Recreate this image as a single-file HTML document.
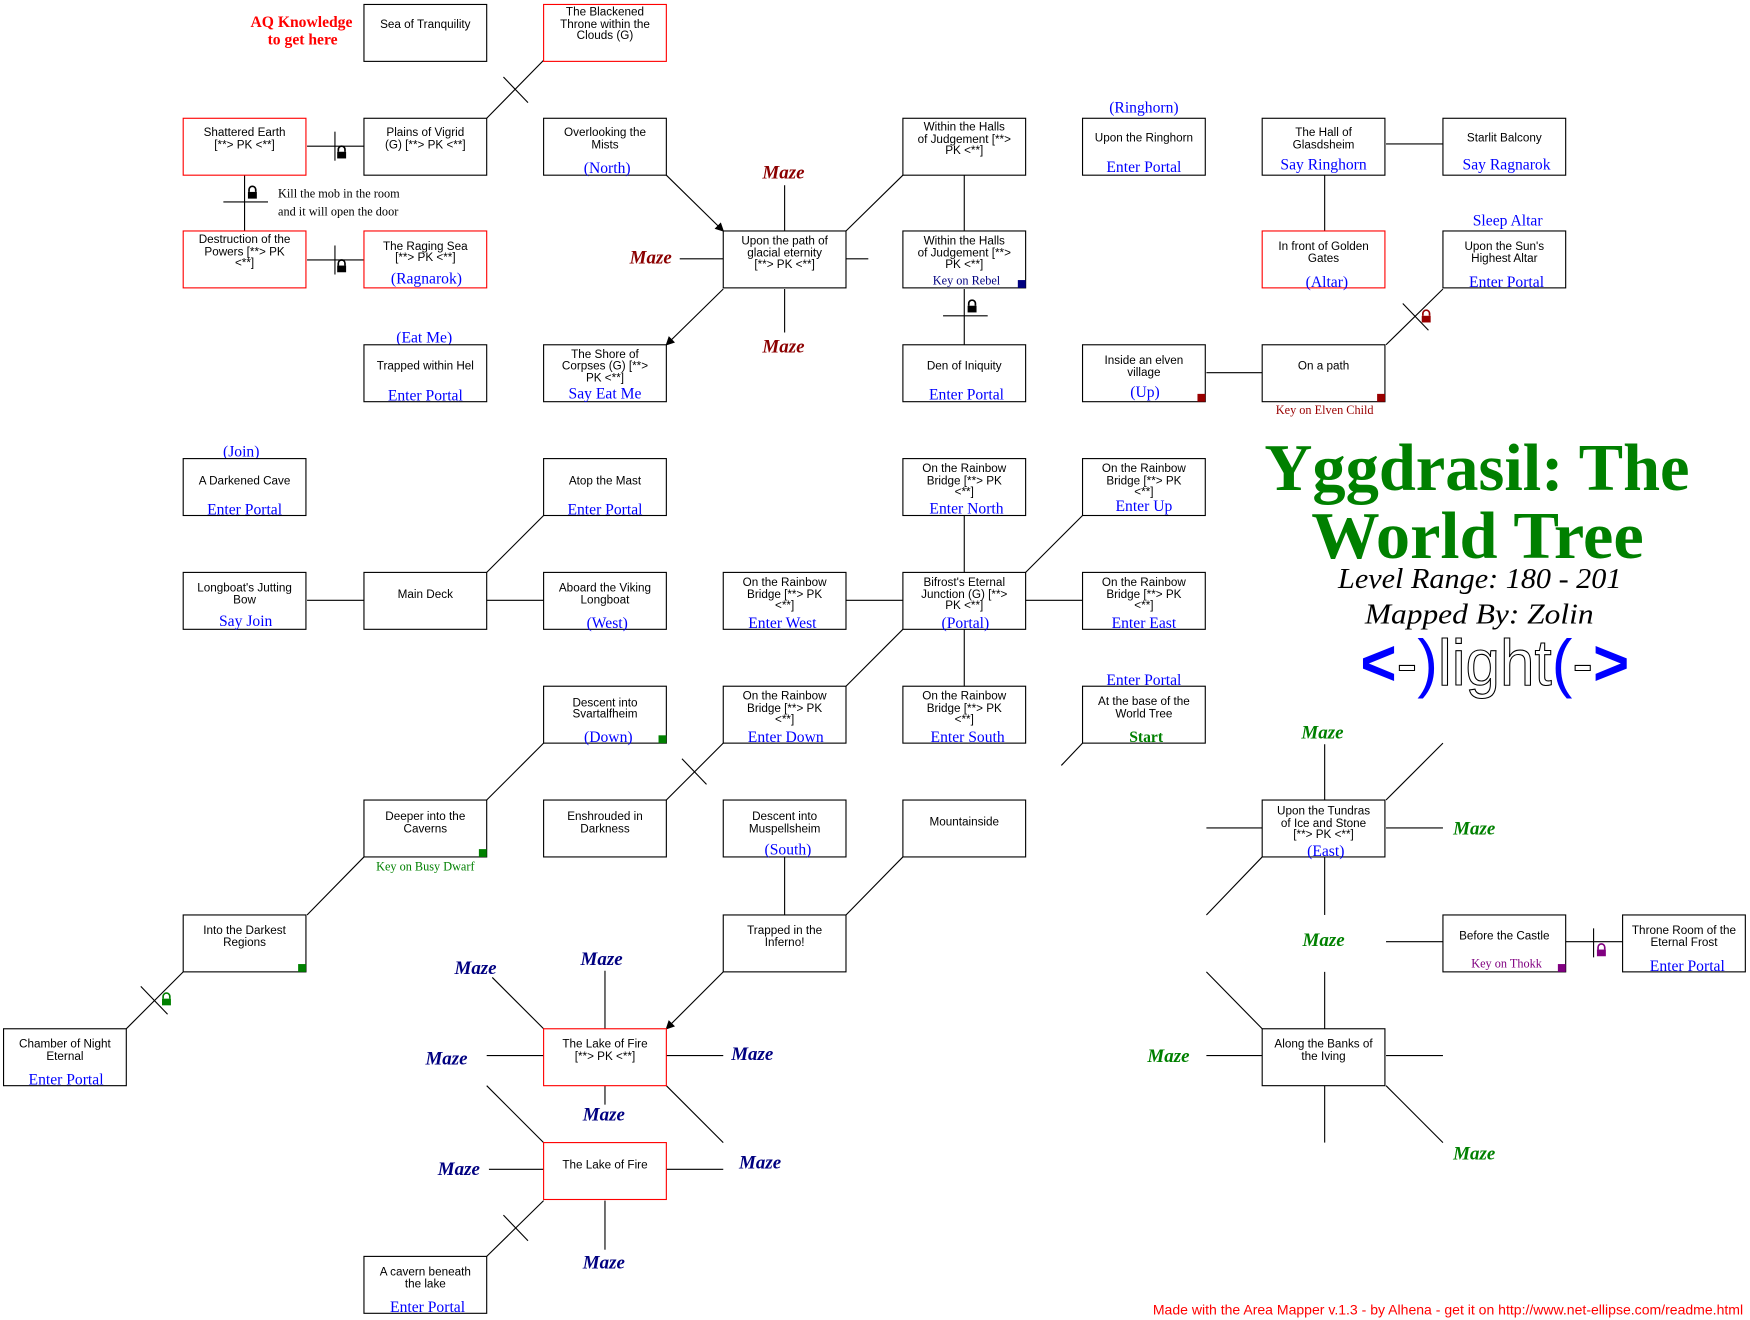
<!DOCTYPE html>
<html><head><meta charset="utf-8"><style>
html,body{margin:0;padding:0;background:#fff;width:1750px;height:1320px;overflow:hidden}
svg{display:block}
.t{font-family:"Liberation Sans",sans-serif;font-size:10.5px;text-anchor:middle;fill:#000}
.l{font-family:"Liberation Serif",serif;font-size:14px;text-anchor:middle;fill:#0000ff}
.s{font-family:"Liberation Serif",serif;font-size:11px;text-anchor:middle}
.m{font-family:"Liberation Serif",serif;font-size:17px;font-weight:bold;font-style:italic;text-anchor:middle}
.r{fill:#fff;stroke:#000;stroke-width:1}
.rr{fill:#fff;stroke:#ff0000;stroke-width:1}
line{stroke:#000;stroke-width:1}
</style></head><body>
<svg width="1750" height="1320" viewBox="0 0 1568 1183" xmlns="http://www.w3.org/2000/svg">
<defs>
<marker id="ar" markerWidth="8" markerHeight="8" refX="7" refY="4" orient="auto" markerUnits="userSpaceOnUse"><path d="M0,0 L8,4 L0,8 z" fill="#000"/></marker>
</defs>

<line x1="436" y1="106" x2="487" y2="54"/>
<line x1="451" y1="69" x2="473" y2="92"/>
<line x1="275" y1="131" x2="326" y2="131"/><line x1="300" y1="118" x2="300" y2="144"/>
<line x1="219" y1="157" x2="219" y2="207"/><line x1="200" y1="181" x2="240" y2="181"/>
<line x1="275" y1="233" x2="326" y2="233"/><line x1="300" y1="220" x2="300" y2="246"/>
<line x1="597" y1="157" x2="648" y2="207" marker-end="url(#ar)"/>
<line x1="648" y1="259" x2="597" y2="309" marker-end="url(#ar)"/>
<line x1="703" y1="207" x2="703" y2="166"/>
<line x1="609" y1="232" x2="648" y2="232"/>
<line x1="758" y1="232" x2="778" y2="232"/>
<line x1="703" y1="259" x2="703" y2="298"/>
<line x1="758" y1="207" x2="809" y2="157"/>
<line x1="864" y1="157" x2="864" y2="207"/>
<line x1="864" y1="259" x2="864" y2="309"/><line x1="845" y1="283" x2="885" y2="283"/>
<line x1="1242" y1="129" x2="1293" y2="129"/>
<line x1="1187" y1="157" x2="1187" y2="207"/>
<line x1="1081" y1="334" x2="1131" y2="334"/>
<line x1="1242" y1="309" x2="1293" y2="259"/><line x1="1257" y1="272" x2="1280" y2="296"/>
<line x1="275" y1="538" x2="326" y2="538"/>
<line x1="436" y1="538" x2="487" y2="538"/>
<line x1="436" y1="513" x2="487" y2="462"/>
<line x1="758" y1="538" x2="809" y2="538"/>
<line x1="919" y1="538" x2="970" y2="538"/>
<line x1="864" y1="513" x2="864" y2="462"/>
<line x1="864" y1="564" x2="864" y2="615"/>
<line x1="919" y1="513" x2="970" y2="462"/>
<line x1="809" y1="564" x2="758" y2="615"/>
<line x1="648" y1="666" x2="597" y2="717"/><line x1="611" y1="680" x2="633" y2="703"/>
<line x1="970" y1="666" x2="951" y2="686"/>
<line x1="487" y1="666" x2="436" y2="717"/>
<line x1="326" y1="768" x2="275" y2="820"/>
<line x1="164" y1="871" x2="113" y2="922"/><line x1="126" y1="884" x2="150" y2="909"/>
<line x1="703" y1="768" x2="703" y2="820"/>
<line x1="809" y1="768" x2="758" y2="820"/>
<line x1="648" y1="871" x2="597" y2="922" marker-end="url(#ar)"/>
<line x1="487" y1="922" x2="441" y2="876"/>
<line x1="542" y1="922" x2="542" y2="870"/>
<line x1="487" y1="946" x2="436" y2="946"/>
<line x1="597" y1="946" x2="648" y2="946"/>
<line x1="542" y1="973" x2="542" y2="990"/>
<line x1="597" y1="973" x2="648" y2="1024"/>
<line x1="436" y1="973" x2="487" y2="1024"/>
<line x1="487" y1="1048" x2="438" y2="1048"/>
<line x1="597" y1="1048" x2="648" y2="1048"/>
<line x1="542" y1="1076" x2="542" y2="1120"/>
<line x1="487" y1="1076" x2="436" y2="1126"/><line x1="451" y1="1089" x2="473" y2="1112"/>
<line x1="1187" y1="717" x2="1187" y2="667"/>
<line x1="1242" y1="717" x2="1293" y2="666"/>
<line x1="1131" y1="742" x2="1081" y2="742"/>
<line x1="1242" y1="742" x2="1293" y2="742"/>
<line x1="1131" y1="768" x2="1081" y2="820"/>
<line x1="1187" y1="768" x2="1187" y2="820"/>
<line x1="1187" y1="922" x2="1187" y2="871"/>
<line x1="1131" y1="922" x2="1081" y2="871"/>
<line x1="1131" y1="946" x2="1081" y2="946"/>
<line x1="1242" y1="946" x2="1293" y2="946"/>
<line x1="1187" y1="973" x2="1187" y2="1024"/>
<line x1="1242" y1="973" x2="1293" y2="1024"/>
<line x1="1293" y1="844" x2="1242" y2="844"/>
<line x1="1403" y1="844" x2="1454" y2="844"/><line x1="1428" y1="832" x2="1428" y2="858"/>

<g fill="#000">
<g transform="translate(306,137)"><path d="M-3,-1 v-2 a3,3 0 0 1 6,0 v2" fill="none" stroke="#000" stroke-width="1.5"/><rect x="-4" y="-1" width="8" height="6"/></g>
<g transform="translate(226,173)"><path d="M-3,-1 v-2 a3,3 0 0 1 6,0 v2" fill="none" stroke="#000" stroke-width="1.5"/><rect x="-4" y="-1" width="8" height="6"/></g>
<g transform="translate(306,239)"><path d="M-3,-1 v-2 a3,3 0 0 1 6,0 v2" fill="none" stroke="#000" stroke-width="1.5"/><rect x="-4" y="-1" width="8" height="6"/></g>
<g transform="translate(871,275)"><path d="M-3,-1 v-2 a3,3 0 0 1 6,0 v2" fill="none" stroke="#000" stroke-width="1.5"/><rect x="-4" y="-1" width="8" height="6"/></g>
</g>
<g transform="translate(1278,284)" fill="#990000"><path d="M-3,-1 v-2 a3,3 0 0 1 6,0 v2" fill="none" stroke="#990000" stroke-width="1.5"/><rect x="-4" y="-1" width="8" height="6"/></g>
<g transform="translate(149,896)" fill="#008000"><path d="M-3,-1 v-2 a3,3 0 0 1 6,0 v2" fill="none" stroke="#008000" stroke-width="1.5"/><rect x="-4" y="-1" width="8" height="6"/></g>
<g transform="translate(1435,852)" fill="#800080"><path d="M-3,-1 v-2 a3,3 0 0 1 6,0 v2" fill="none" stroke="#800080" stroke-width="1.5"/><rect x="-4" y="-1" width="8" height="6"/></g>

<rect class="r" x="326" y="4" width="110" height="51"/><text class="t" x="381" y="25">Sea of Tranquility</text>
<rect class="rr" x="487" y="4" width="110" height="51"/><text class="t" x="542" y="14">The Blackened</text><text class="t" x="542" y="25">Throne within the</text><text class="t" x="542" y="35">Clouds (G)</text>

<rect class="rr" x="164" y="106" width="110" height="51"/><text class="t" x="219" y="122">Shattered Earth</text><text class="t" x="219" y="133">[**&gt; PK &lt;**]</text>
<rect class="r" x="326" y="106" width="110" height="51"/><text class="t" x="381" y="122">Plains of Vigrid</text><text class="t" x="381" y="133">(G) [**&gt; PK &lt;**]</text>
<rect class="r" x="487" y="106" width="110" height="51"/><text class="t" x="542" y="122">Overlooking the</text><text class="t" x="542" y="133">Mists</text><text class="l" x="544" y="155">(North)</text>
<rect class="r" x="809" y="106" width="110" height="51"/><text class="t" x="864" y="117">Within the Halls</text><text class="t" x="864" y="128">of Judgement [**&gt;</text><text class="t" x="864" y="138">PK &lt;**]</text>
<text class="l" x="1025" y="101">(Ringhorn)</text>
<rect class="r" x="970" y="106" width="110" height="51"/><text class="t" x="1025" y="127">Upon the Ringhorn</text><text class="l" x="1025" y="154">Enter Portal</text>
<rect class="r" x="1131" y="106" width="110" height="51"/><text class="t" x="1186" y="122">The Hall of</text><text class="t" x="1186" y="133">Glasdsheim</text><text class="l" x="1186" y="152">Say Ringhorn</text>
<rect class="r" x="1293" y="106" width="110" height="51"/><text class="t" x="1348" y="127">Starlit Balcony</text><text class="l" x="1350" y="152">Say Ragnarok</text>

<rect class="rr" x="164" y="207" width="110" height="51"/><text class="t" x="219" y="218">Destruction of the</text><text class="t" x="219" y="229">Powers [**&gt; PK</text><text class="t" x="219" y="239">&lt;**]</text>
<rect class="rr" x="326" y="207" width="110" height="51"/><text class="t" x="381" y="224">The Raging Sea</text><text class="t" x="381" y="234">[**&gt; PK &lt;**]</text><text class="l" x="382" y="254">(Ragnarok)</text>
<rect class="r" x="648" y="207" width="110" height="51"/><text class="t" x="703" y="219">Upon the path of</text><text class="t" x="703" y="230">glacial eternity</text><text class="t" x="703" y="240">[**&gt; PK &lt;**]</text>
<rect class="r" x="809" y="207" width="110" height="51"/><text class="t" x="864" y="219">Within the Halls</text><text class="t" x="864" y="230">of Judgement [**&gt;</text><text class="t" x="864" y="240">PK &lt;**]</text><text class="s" x="866" y="255" fill="#000080">Key on Rebel</text><rect x="912" y="251" width="7" height="7" fill="#000080"/>
<rect class="rr" x="1131" y="207" width="110" height="51"/><text class="t" x="1186" y="224">In front of Golden</text><text class="t" x="1186" y="235">Gates</text><text class="l" x="1189" y="257">(Altar)</text>
<text class="l" x="1351" y="202">Sleep Altar</text>
<rect class="r" x="1293" y="207" width="110" height="51"/><text class="t" x="1348" y="224">Upon the Sun's</text><text class="t" x="1348" y="235">Highest Altar</text><text class="l" x="1350" y="257">Enter Portal</text>

<text class="l" x="380" y="307">(Eat Me)</text>
<rect class="r" x="326" y="309" width="110" height="51"/><text class="t" x="381" y="331">Trapped within Hel</text><text class="l" x="381" y="359">Enter Portal</text>
<rect class="r" x="487" y="309" width="110" height="51"/><text class="t" x="542" y="321">The Shore of</text><text class="t" x="542" y="331">Corpses (G) [**&gt;</text><text class="t" x="542" y="342">PK &lt;**]</text><text class="l" x="542" y="357">Say Eat Me</text>
<rect class="r" x="809" y="309" width="110" height="51"/><text class="t" x="864" y="331">Den of Iniquity</text><text class="l" x="866" y="358">Enter Portal</text>
<rect class="r" x="970" y="309" width="110" height="51"/><text class="t" x="1025" y="326">Inside an elven</text><text class="t" x="1025" y="337">village</text><text class="l" x="1026" y="356">(Up)</text><rect x="1073" y="353" width="7" height="7" fill="#990000"/>
<rect class="r" x="1131" y="309" width="110" height="51"/><text class="t" x="1186" y="331">On a path</text><rect x="1234" y="353" width="7" height="7" fill="#990000"/>
<text class="s" x="1187" y="371" fill="#990000">Key on Elven Child</text>

<text class="l" x="216" y="409">(Join)</text>
<rect class="r" x="164" y="411" width="110" height="51"/><text class="t" x="219" y="434">A Darkened Cave</text><text class="l" x="219" y="461">Enter Portal</text>
<rect class="r" x="487" y="411" width="110" height="51"/><text class="t" x="542" y="434">Atop the Mast</text><text class="l" x="542" y="461">Enter Portal</text>
<rect class="r" x="809" y="411" width="110" height="51"/><text class="t" x="864" y="423">On the Rainbow</text><text class="t" x="864" y="434">Bridge [**&gt; PK</text><text class="t" x="864" y="444">&lt;**]</text><text class="l" x="866" y="460">Enter North</text>
<rect class="r" x="970" y="411" width="110" height="51"/><text class="t" x="1025" y="423">On the Rainbow</text><text class="t" x="1025" y="434">Bridge [**&gt; PK</text><text class="t" x="1025" y="444">&lt;**]</text><text class="l" x="1025" y="458">Enter Up</text>

<rect class="r" x="164" y="513" width="110" height="51"/><text class="t" x="219" y="530">Longboat's Jutting</text><text class="t" x="219" y="541">Bow</text><text class="l" x="220" y="561">Say Join</text>
<rect class="r" x="326" y="513" width="110" height="51"/><text class="t" x="381" y="536">Main Deck</text>
<rect class="r" x="487" y="513" width="110" height="51"/><text class="t" x="542" y="530">Aboard the Viking</text><text class="t" x="542" y="541">Longboat</text><text class="l" x="544" y="563">(West)</text>
<rect class="r" x="648" y="513" width="110" height="51"/><text class="t" x="703" y="525">On the Rainbow</text><text class="t" x="703" y="536">Bridge [**&gt; PK</text><text class="t" x="703" y="546">&lt;**]</text><text class="l" x="701" y="563">Enter West</text>
<rect class="r" x="809" y="513" width="110" height="51"/><text class="t" x="864" y="525">Bifrost's Eternal</text><text class="t" x="864" y="536">Junction (G) [**&gt;</text><text class="t" x="864" y="546">PK &lt;**]</text><text class="l" x="865" y="563">(Portal)</text>
<rect class="r" x="970" y="513" width="110" height="51"/><text class="t" x="1025" y="525">On the Rainbow</text><text class="t" x="1025" y="536">Bridge [**&gt; PK</text><text class="t" x="1025" y="546">&lt;**]</text><text class="l" x="1025" y="563">Enter East</text>

<rect class="r" x="487" y="615" width="110" height="51"/><text class="t" x="542" y="633">Descent into</text><text class="t" x="542" y="643">Svartalfheim</text><text class="l" x="545" y="665">(Down)</text><rect x="590" y="659" width="7" height="7" fill="#008000"/>
<rect class="r" x="648" y="615" width="110" height="51"/><text class="t" x="703" y="627">On the Rainbow</text><text class="t" x="703" y="638">Bridge [**&gt; PK</text><text class="t" x="703" y="648">&lt;**]</text><text class="l" x="704" y="665">Enter Down</text>
<rect class="r" x="809" y="615" width="110" height="51"/><text class="t" x="864" y="627">On the Rainbow</text><text class="t" x="864" y="638">Bridge [**&gt; PK</text><text class="t" x="864" y="648">&lt;**]</text><text class="l" x="867" y="665">Enter South</text>
<text class="l" x="1025" y="614">Enter Portal</text>
<rect class="r" x="970" y="615" width="110" height="51"/><text class="t" x="1025" y="632">At the base of the</text><text class="t" x="1025" y="643">World Tree</text><text class="l" x="1027" y="665" style="font-weight:bold;fill:#008000">Start</text>

<rect class="r" x="326" y="717" width="110" height="51"/><text class="t" x="381" y="735">Deeper into the</text><text class="t" x="381" y="746">Caverns</text><rect x="429" y="761" width="7" height="7" fill="#008000"/>
<text class="s" x="381" y="780" fill="#008000">Key on Busy Dwarf</text>
<rect class="r" x="487" y="717" width="110" height="51"/><text class="t" x="542" y="735">Enshrouded in</text><text class="t" x="542" y="746">Darkness</text>
<rect class="r" x="648" y="717" width="110" height="51"/><text class="t" x="703" y="735">Descent into</text><text class="t" x="703" y="746">Muspellsheim</text><text class="l" x="706" y="766">(South)</text>
<rect class="r" x="809" y="717" width="110" height="51"/><text class="t" x="864" y="740">Mountainside</text>
<rect class="r" x="1131" y="717" width="110" height="51"/><text class="t" x="1186" y="730">Upon the Tundras</text><text class="t" x="1186" y="741">of Ice and Stone</text><text class="t" x="1186" y="751">[**&gt; PK &lt;**]</text><text class="l" x="1188" y="767">(East)</text>

<rect class="r" x="164" y="820" width="110" height="51"/><text class="t" x="219" y="837">Into the Darkest</text><text class="t" x="219" y="848">Regions</text><rect x="267" y="864" width="7" height="7" fill="#008000"/>
<rect class="r" x="648" y="820" width="110" height="51"/><text class="t" x="703" y="837">Trapped in the</text><text class="t" x="703" y="848">Inferno!</text>
<rect class="r" x="1293" y="820" width="110" height="51"/><text class="t" x="1348" y="842">Before the Castle</text><text class="s" x="1350" y="867" fill="#800080">Key on Thokk</text><rect x="1396" y="864" width="7" height="7" fill="#800080"/>
<rect class="r" x="1454" y="820" width="110" height="51"/><text class="t" x="1509" y="837">Throne Room of the</text><text class="t" x="1509" y="848">Eternal Frost</text><text class="l" x="1512" y="870">Enter Portal</text>

<rect class="r" x="3" y="922" width="110" height="51"/><text class="t" x="58" y="939">Chamber of Night</text><text class="t" x="58" y="950">Eternal</text><text class="l" x="59" y="972">Enter Portal</text>
<rect class="rr" x="487" y="922" width="110" height="51"/><text class="t" x="542" y="939">The Lake of Fire</text><text class="t" x="542" y="950">[**&gt; PK &lt;**]</text>
<rect class="r" x="1131" y="922" width="110" height="51"/><text class="t" x="1186" y="939">Along the Banks of</text><text class="t" x="1186" y="950">the Iving</text>
<rect class="rr" x="487" y="1024" width="110" height="51"/><text class="t" x="542" y="1047">The Lake of Fire</text>
<rect class="r" x="326" y="1126" width="110" height="51"/><text class="t" x="381" y="1143">A cavern beneath</text><text class="t" x="381" y="1154">the lake</text><text class="l" x="383" y="1176">Enter Portal</text>

<g fill="#8b0000">
<text class="m" x="702" y="160">Maze</text><text class="m" x="583" y="236">Maze</text><text class="m" x="702" y="316">Maze</text>
</g>
<g fill="#000080">
<text class="m" x="426" y="873">Maze</text><text class="m" x="539" y="865">Maze</text><text class="m" x="400" y="954">Maze</text><text class="m" x="674" y="950">Maze</text>
<text class="m" x="541" y="1004">Maze</text><text class="m" x="411" y="1053">Maze</text><text class="m" x="681" y="1047">Maze</text><text class="m" x="541" y="1137">Maze</text>
</g>
<g fill="#008000">
<text class="m" x="1185" y="662">Maze</text><text class="m" x="1321" y="748">Maze</text><text class="m" x="1186" y="848">Maze</text><text class="m" x="1047" y="952">Maze</text><text class="m" x="1321" y="1039">Maze</text>
</g>

<text x="270" y="24" style="font-family:'Liberation Serif',serif;font-size:14px;font-weight:bold;fill:#ff0000;text-anchor:middle">AQ Knowledge</text>
<text x="271" y="40" style="font-family:'Liberation Serif',serif;font-size:14px;font-weight:bold;fill:#ff0000;text-anchor:middle">to get here</text>
<text x="249" y="177" style="font-family:'Liberation Serif',serif;font-size:11px">Kill the mob in the room</text>
<text x="249" y="193" style="font-family:'Liberation Serif',serif;font-size:11px">and it will open the door</text>

<text x="1133" y="439" textLength="381" lengthAdjust="spacingAndGlyphs" style="font-family:'Liberation Serif',serif;font-size:60px;font-weight:bold;fill:#008000">Yggdrasil: The</text>
<text x="1175" y="500" textLength="298" lengthAdjust="spacingAndGlyphs" style="font-family:'Liberation Serif',serif;font-size:60px;font-weight:bold;fill:#008000">World Tree</text>
<text x="1199" y="527" textLength="254" lengthAdjust="spacingAndGlyphs" style="font-family:'Liberation Serif',serif;font-size:26px;font-style:italic">Level Range: 180 - 201</text>
<text x="1223" y="559" textLength="205" lengthAdjust="spacingAndGlyphs" style="font-family:'Liberation Serif',serif;font-size:26px;font-style:italic">Mapped By: Zolin</text>
<text x="1219" y="614" textLength="241" lengthAdjust="spacingAndGlyphs" style="font-family:'Liberation Sans',sans-serif;font-size:58px"><tspan fill="#0000ff" font-weight="bold">&lt;</tspan><tspan fill="#fff" stroke="#000" stroke-width="1">-</tspan><tspan fill="#0000ff">)</tspan><tspan fill="#fff" stroke="#000" stroke-width="1">light</tspan><tspan fill="#0000ff">(</tspan><tspan fill="#fff" stroke="#000" stroke-width="1">-</tspan><tspan fill="#0000ff" font-weight="bold">&gt;</tspan></text>

<text x="1033" y="1178" textLength="529" lengthAdjust="spacingAndGlyphs" style="font-family:'Liberation Sans',sans-serif;font-size:12.5px;fill:#ff0000">Made with the Area Mapper v.1.3 - by Alhena - get it on http://www.net-ellipse.com/readme.html</text>
</svg>
</body></html>
